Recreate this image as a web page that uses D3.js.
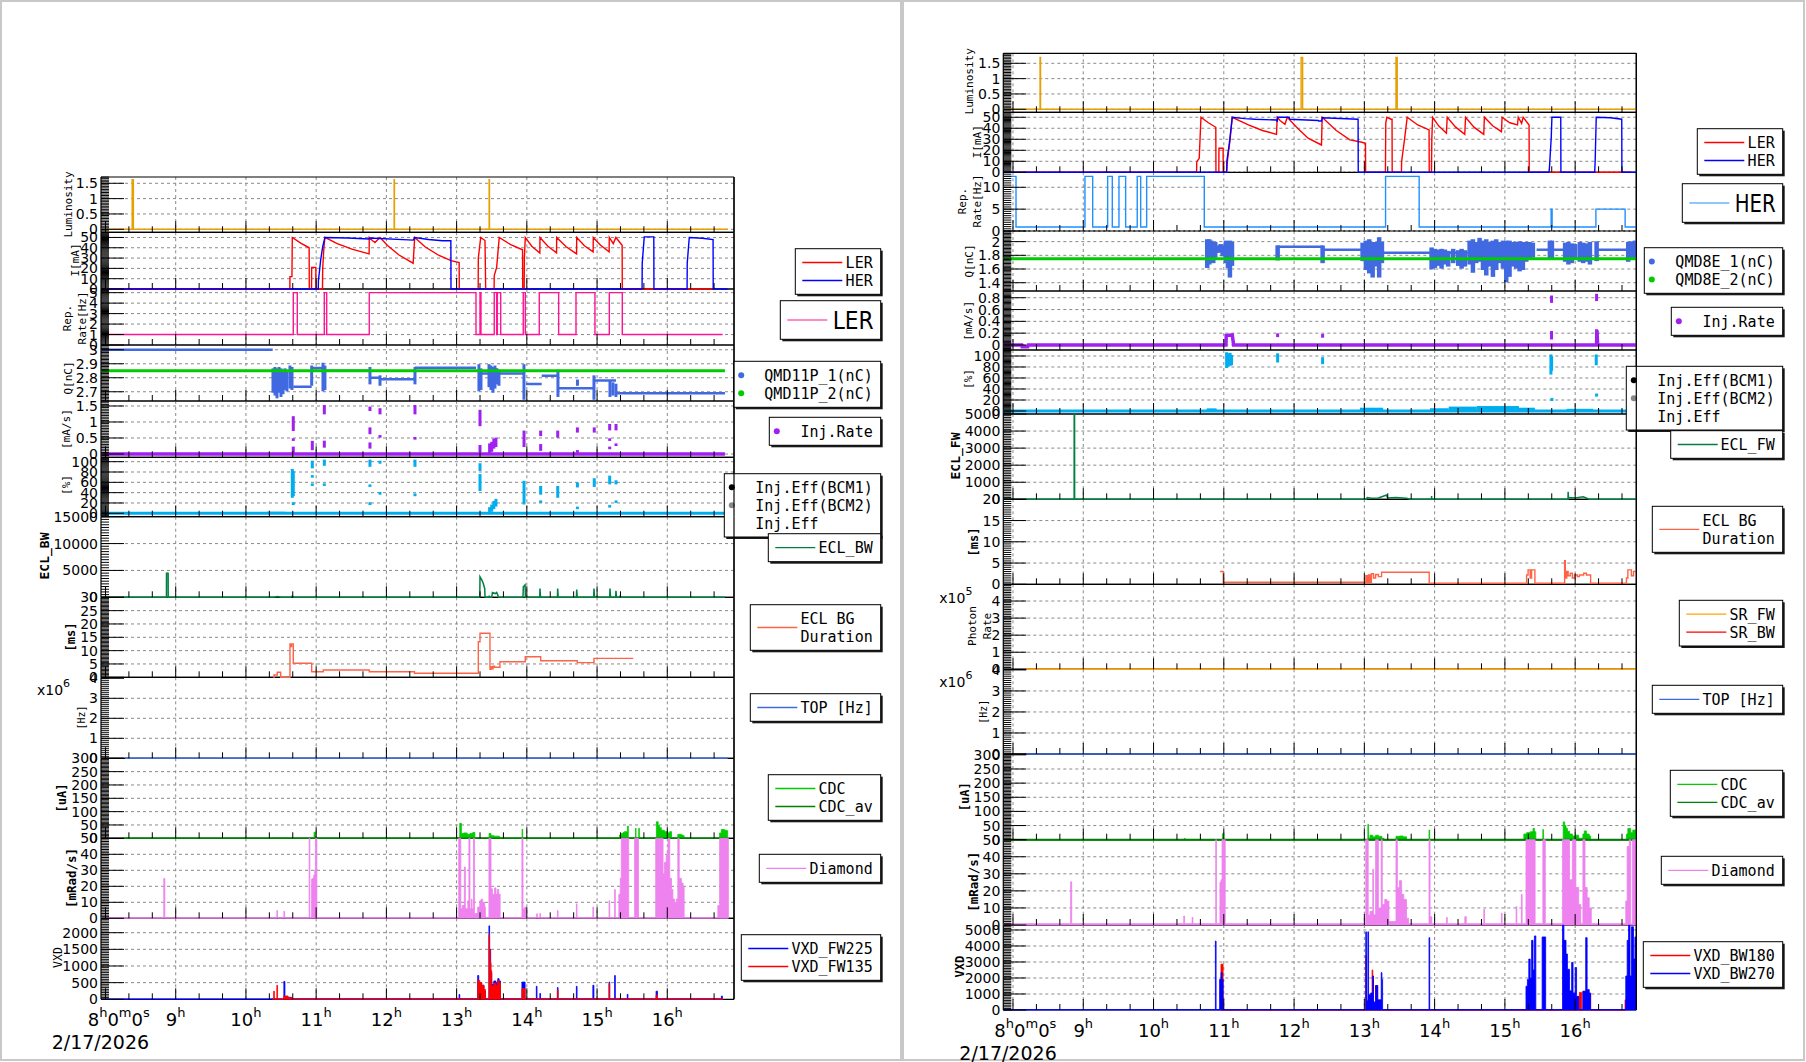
<!DOCTYPE html>
<html>
<head>
<meta charset="utf-8">
<script src="https://cdn.jsdelivr.net/npm/d3@7"></script>
<style>
body { margin: 0; background: #fff; }
svg { display: block; }
text { font-family: "DejaVu Sans", sans-serif; fill: #000; }
.mono { font-family: "DejaVu Sans Mono", monospace; }
</style>
</head>
<body>
<svg id="chart" width="1806" height="1062"></svg>
<script>
// time is in decimal hours of 2/17/2026
const hourTicks = [8, 9, 10, 11, 12, 13, 14, 15, 16];
const hourLabels = [9, 10, 11, 12, 13, 14, 15, 16];
const dateLabel = '2/17/2026';

// ---------------- left canvas (LER side) ----------------
const lumL = [[7.936,0],[8.380,0],[8.380,1.62],[8.397,1.62],[8.397,0],[12.110,0],[12.110,1.62],[12.115,1.62],[12.115,0],[13.463,0],[13.463,1.62],[13.468,1.62],[13.468,0],[16.86,0]];
const lerL = [[7.936,0],[10.625,0],[10.627,12],[10.655,12],[10.660,50],[10.78,44.5],[10.900,40],[10.902,0],[10.934,0],[10.936,21],[10.995,21],[10.997,0],[11.090,0],[11.093,20],[11.11,40],[11.125,50],[11.30,44],[11.52,38.5],[11.754,34],[11.756,50],[11.80,47],[11.837,45],[11.909,50],[12.02,42],[12.18,33],[12.381,25],[12.403,50],[12.55,41],[12.75,32.5],[12.92,27.5],[13.036,25.6],[13.038,0],[13.307,0],[13.309,30],[13.343,50],[13.404,47],[13.414,0],[13.534,0],[13.536,13],[13.570,21],[13.607,50],[13.77,43],[13.939,38],[13.941,0],[13.962,0],[13.965,30],[13.978,50],[14.07,41.5],[14.185,35],[14.187,50],[14.30,41.5],[14.423,35],[14.425,50],[14.56,41],[14.708,34],[14.710,50],[14.82,42],[14.944,36],[14.946,50],[15.05,42.5],[15.172,36],[15.174,50],[15.231,44],[15.268,50],[15.357,42.5],[15.359,0],[16.654,0]];
const herL = [[7.936,0],[11.030,0],[11.032,8],[11.064,28],[11.093,41],[11.125,50],[11.45,49.5],[11.75,48.5],[11.756,49.5],[12.383,47.4],[12.403,50],[12.60,48],[12.80,46.8],[12.918,46.8],[12.920,0],[15.641,0],[15.643,25],[15.672,50.6],[15.808,50.6],[15.810,0],[16.282,0],[16.284,25],[16.313,50],[16.50,49.2],[16.652,48],[16.654,0],[16.860,0]];
const repL = [[7.936,1],[10.674,5],[10.731,1],[11.116,5],[11.150,1],[11.756,5],[13.276,1],[13.333,5],[13.347,1],[13.536,5],[13.570,1],[13.580,5],[13.628,1],[13.949,5],[13.978,1],[14.177,5],[14.453,1],[14.700,5],[14.970,1],[15.174,5],[15.359,1],[16.788,1]];
const qmd1L = [[7.936,10.381,3.0],[10.674,10.936,2.736],[10.936,11.125,2.87],[11.125,11.756,2.85],[11.756,11.909,2.80],[11.909,12.407,2.79],[12.407,13.276,2.872],[13.333,13.949,2.83],[13.988,14.211,2.755],[14.211,14.453,2.814],[14.453,14.970,2.725],[14.970,15.269,2.78],[15.269,16.821,2.69]];
const qmd1ClustL = [[10.385,2.70,2.86],[10.400,2.72,2.85],[10.414,2.68,2.87],[10.428,2.71,2.84],[10.442,2.66,2.86],[10.457,2.72,2.85],[10.471,2.70,2.87],[10.485,2.73,2.85],[10.499,2.67,2.86],[10.514,2.72,2.84],[10.528,2.69,2.85],[10.542,2.73,2.84],[10.556,2.72,2.86],[10.570,2.74,2.83],[10.584,2.71,2.84],[10.627,2.73,2.88],[10.656,2.72,2.87],[10.936,2.75,2.88],[11.097,2.71,2.90],[11.125,2.72,2.88],[11.766,2.76,2.87],[11.909,2.75,2.81],[12.407,2.76,2.87],[13.318,2.71,2.89],[13.347,2.72,2.86],[13.461,2.74,2.89],[13.475,2.75,2.87],[13.489,2.72,2.88],[13.504,2.76,2.86],[13.518,2.70,2.87],[13.532,2.75,2.86],[13.546,2.73,2.88],[13.560,2.77,2.86],[13.575,2.76,2.86],[13.603,2.75,2.85],[13.959,2.65,2.89],[14.443,2.67,2.85],[14.721,2.75,2.78],[14.956,2.65,2.81],[15.184,2.67,2.77],[15.226,2.68,2.76],[15.269,2.67,2.75]];
const qmd2L = [[7.936,16.821,2.85]];
const injRateL = [[7.936,0],[16.821,0]];
const injRateDotsL = [[10.674,0.75,1.15],[10.674,0.44,0.46],[10.674,0.0,0.2],[10.945,0.15,0.38],[11.116,1.27,1.5],[11.116,0.23,0.385],[11.766,1.375,1.45],[11.766,0.65,0.80],[11.766,0.2,0.33],[11.909,1.27,1.4],[11.909,0.54,0.56],[12.407,1.27,1.5],[12.407,0.48,0.5],[13.333,0.9,1.35],[13.333,0.1,0.25],[13.47,0.05,0.3],[13.50,0.1,0.35],[13.53,0.2,0.45],[13.56,0.25,0.48],[13.96,0.25,0.7],[14.197,0.59,0.70],[14.197,0.13,0.28],[14.44,0.54,0.70],[14.72,0.70,0.80],[14.72,0.07,0.09],[14.96,0.70,0.80],[15.18,0.77,0.906],[15.18,0.44,0.46],[15.18,0.18,0.2],[15.27,0.77,0.906],[15.27,0.28,0.3]];
const injEffL = [[7.936,0],[16.821,0]];
const injEffBandL = [[10.30,10.56,3]];
const injEffDotsL = [[10.66,32,84],[10.674,35,80],[10.674,18,19.5],[10.945,89,100],[10.945,71,72],[10.945,55,56],[11.116,94,102],[11.116,55,56],[11.766,92,102],[11.766,53,54],[11.766,18,19.5],[11.909,98,100],[11.909,38,39.5],[12.407,92,102],[12.407,35,36.5],[13.333,84,95],[13.333,45,74],[13.47,0,10],[13.50,5,15],[13.53,10,22],[13.56,15,26],[13.96,19,61],[14.197,38,51],[14.197,22,23],[14.44,32,51],[14.72,52,58],[14.72,10,11],[14.96,53,66],[15.18,58,71],[15.18,13,14],[15.27,58,62],[15.27,22,23]];
const eclBWL = [[7.936,0],[8.868,0],[8.869,4470],[8.892,4470],[8.893,0],[10.40,0],[10.45,150],[10.50,0],[10.64,0],[10.66,250],[10.68,0],[13.330,0],[13.333,3830],[13.36,3200],[13.38,2580],[13.40,1640],[13.405,0],[13.462,0],[13.465,300],[13.47,0],[13.50,0],[13.51,900],[13.55,700],[13.57,900],[13.60,0],[13.945,0],[13.95,1950],[13.975,2300],[13.98,0],[14.184,0],[14.187,1640],[14.195,0],[14.436,0],[14.439,1640],[14.447,0],[14.706,0],[14.710,1450],[14.718,0],[14.952,0],[14.956,1640],[14.964,0],[15.180,0],[15.184,1640],[15.192,0],[15.265,0],[15.269,1200],[15.277,0],[15.322,0],[15.326,300],[15.33,0],[16.821,0]];
const eclDurL = [[10.390,0],[10.399,0.86],[10.446,1.87],[10.495,0],[10.627,12.5],[10.64,11.5],[10.65,12.5],[10.674,5.25],[10.936,2.1],[11.101,2.74],[11.756,2.1],[12.400,1.5],[13.309,13.35],[13.333,16.5],[13.475,3.0],[13.49,4.0],[13.50,3.2],[13.52,4.2],[13.54,3.75],[13.617,5.85],[13.978,7.7],[14.197,6.2],[14.718,5.5],[14.956,7.1],[15.515,7.1]];
const topL = [[8.278,0],[16.860,0]];
const cdcAvL = [[8.264,0],[16.860,0]];
const cdcL = [[8.264,0],[10.438,3],[10.445,0],[10.556,3],[10.563,0],[10.970,22.5],[10.99,0],[13.045,56],[13.068,18],[13.10,20],[13.15,15],[13.19,18],[13.23,22],[13.26,0],[13.462,18],[13.49,10],[13.53,8],[13.58,8],[13.61,0],[13.932,34],[13.94,0],[15.320,12],[15.345,18],[15.37,22],[15.39,25],[15.415,25],[15.434,46],[15.445,0],[15.547,37.5],[15.555,0],[15.594,37.5],[15.602,0],[15.845,62],[15.87,48],[15.89,40],[15.915,30],[15.96,25],[16.01,20],[16.035,25],[16.06,0],[16.15,15],[16.20,12],[16.225,10],[16.24,0],[16.745,20],[16.77,33],[16.815,30],[16.85,28],[16.860,0]];
const diamondL = [[7.936,0.3],[8.830,24.8],[8.845,0.3],[10.44,4.85],[10.45,0.3],[10.54,4.4],[10.55,0.3],[10.90,50],[10.91,0.3],[10.935,24.5],[10.95,25],[10.965,27],[10.98,30],[10.99,50],[11.01,0.5],[13.03,50],[13.06,6],[13.08,8],[13.11,32],[13.125,6],[13.16,11],[13.175,50],[13.19,6],[13.21,12],[13.22,6],[13.24,50],[13.255,3],[13.30,7],[13.33,11],[13.35,12],[13.37,10],[13.40,7],[13.41,0.5],[13.46,50],[13.49,18.5],[13.51,15],[13.54,19],[13.56,15],[13.58,18],[13.60,15],[13.62,0.5],[13.93,50],[13.945,6],[13.97,7],[13.99,0.5],[14.14,2.8],[14.15,0.5],[14.185,3],[14.195,0.5],[14.435,4.85],[14.445,0.5],[14.705,9],[14.715,0.5],[14.94,7],[14.95,0.5],[15.17,11],[15.18,0.5],[15.25,18],[15.26,0.5],[15.31,15],[15.33,25],[15.345,50],[15.45,0.5],[15.535,50],[15.59,0.5],[15.835,50],[15.94,28],[15.96,35],[15.985,40],[16.01,50],[16.035,25],[16.06,18],[16.08,12],[16.105,10],[16.13,12],[16.15,50],[16.17,25],[16.20,22],[16.225,20],[16.24,0.5],[16.72,8],[16.745,50],[16.87,0.5]];
const vxdFW225L = [[7.936,12],[10.54,538],[10.555,40],[10.60,60],[10.65,15],[13.035,147],[13.045,15],[13.30,714],[13.315,500],[13.35,420],[13.39,250],[13.41,15],[13.46,2205],[13.47,1500],[13.485,800],[13.50,450],[13.53,550],[13.56,500],[13.585,620],[13.605,550],[13.625,15],[13.93,518],[13.975,15],[14.135,391],[14.145,15],[14.185,176],[14.195,15],[14.435,353],[14.445,15],[14.705,391],[14.715,15],[14.94,420],[14.955,15],[15.17,518],[15.18,15],[15.25,714],[15.26,15],[15.43,150],[15.44,15],[15.84,244],[15.86,15],[16.77,97],[16.785,0]];
const vxdFW135L = [[10.38,12],[10.395,244],[10.405,12],[10.44,420],[10.45,12],[10.54,100],[10.60,50],[10.65,12],[13.30,568],[13.33,500],[13.36,420],[13.39,300],[13.41,12],[13.46,1940],[13.47,1500],[13.48,1100],[13.49,862],[13.50,400],[13.53,480],[13.56,420],[13.585,560],[13.605,500],[13.625,12],[13.93,323],[13.975,12],[14.435,274],[14.445,12],[15.17,470],[15.18,12],[15.84,120],[15.86,12],[16.79,0]];

// ---------------- right canvas (HER side) ----------------
const lumR = [[7.862,0],[8.385,0],[8.385,1.69],[8.392,1.69],[8.392,0],[12.100,0],[12.100,1.69],[12.122,1.69],[12.122,0],[13.450,0],[13.450,1.69],[13.468,1.69],[13.468,0],[16.87,0]];
const lerR = [[7.862,0],[10.613,0],[10.615,9.6],[10.65,12.7],[10.675,50],[10.78,45],[10.886,40.9],[10.888,0],[10.929,0],[10.931,21.8],[10.990,21.8],[10.992,0],[11.04,0],[11.05,10],[11.09,30],[11.12,50],[11.35,43],[11.55,38],[11.750,34.5],[11.760,50],[11.80,47],[11.87,43.6],[11.903,50],[12.05,40],[12.20,31],[12.390,24.8],[12.400,50],[12.60,38],[12.794,29.4],[12.95,27.5],[13.016,26.4],[13.018,0],[13.300,0],[13.305,45],[13.320,50],[13.38,48.2],[13.394,48.2],[13.396,0],[13.528,0],[13.530,9.6],[13.57,29],[13.610,50],[13.76,43],[13.921,38.5],[13.923,0],[13.955,0],[13.960,30],[13.971,50],[14.06,42],[14.168,35.5],[14.179,50],[14.30,41],[14.429,34.5],[14.440,50],[14.56,41],[14.699,34.5],[14.708,50],[14.83,42],[14.951,36.9],[14.960,50],[15.07,45],[15.179,43],[15.190,50],[15.238,44.5],[15.260,50],[15.344,43],[15.346,0],[16.80,0]];
const herR = [[7.862,0],[11.040,0],[11.045,11],[11.080,27],[11.120,50],[11.30,48.8],[11.45,48.2],[11.750,47.5],[11.760,46],[11.766,50],[11.931,50],[11.94,48.2],[12.344,47],[12.35,46.6],[12.392,46.6],[12.40,49.5],[12.911,48.2],[12.913,0],[15.628,0],[15.635,5],[15.660,32],[15.669,50],[15.795,50],[15.797,0],[16.278,0],[16.285,11],[16.300,50],[16.50,49.5],[16.663,48.2],[16.665,0],[16.86,0]];
const repR = [[7.862,12.5],[8.043,0.9],[9.024,12.5],[9.134,0.9],[9.347,12.5],[9.413,0.9],[9.508,12.5],[9.603,0.9],[9.768,12.5],[9.817,0.9],[9.902,12.5],[10.722,0.9],[13.302,12.5],[13.780,0.9],[15.658,5],[15.672,0.9],[16.295,5],[16.711,0.9],[16.87,0.9]];
const qmd1R = [[11.752,12.406,1.925],[12.406,12.961,1.88],[13.268,14.474,1.838],[15.451,15.829,1.88],[16.327,16.731,1.88]];
const qmd1ClustR = [[10.764,1.63,2.02],[10.793,1.68,2.02],[10.821,1.73,2.0],[10.850,1.70,1.98],[10.878,1.78,1.98],[10.921,1.85,1.93],[10.955,1.86,1.95],[10.983,1.80,1.93],[11.030,1.70,2.0],[11.059,1.63,1.98],[11.087,1.49,2.0],[11.116,1.66,1.98],[11.766,1.74,1.93],[12.406,1.70,1.93],[12.975,1.73,1.97],[13.022,1.60,2.0],[13.070,1.55,2.02],[13.118,1.49,1.98],[13.164,1.65,1.98],[13.211,1.49,2.05],[13.250,1.70,1.98],[13.957,1.61,1.90],[14.004,1.63,1.88],[14.051,1.66,1.87],[14.099,1.62,1.88],[14.146,1.68,1.87],[14.193,1.65,1.85],[14.264,1.70,1.88],[14.335,1.66,1.86],[14.384,1.62,1.88],[14.431,1.65,1.86],[14.498,1.68,2.0],[14.545,1.56,2.02],[14.593,1.70,1.98],[14.640,1.72,2.04],[14.688,1.60,2.0],[14.735,1.52,2.02],[14.782,1.65,1.98],[14.830,1.50,2.0],[14.877,1.60,2.02],[14.924,1.70,1.98],[14.972,1.62,2.0],[15.019,1.42,2.0],[15.066,1.50,2.0],[15.114,1.65,1.98],[15.161,1.62,1.98],[15.209,1.58,1.99],[15.256,1.60,1.98],[15.304,1.72,1.98],[15.351,1.75,1.98],[15.398,1.78,1.97],[15.640,1.75,2.0],[15.669,1.75,2.0],[15.857,1.72,1.97],[15.904,1.68,1.98],[15.953,1.70,1.96],[16.000,1.75,1.95],[16.067,1.72,1.98],[16.114,1.70,1.97],[16.162,1.72,1.96],[16.210,1.68,1.98],[16.305,1.73,1.99],[16.755,1.72,1.98],[16.803,1.75,1.99],[16.850,1.75,2.0]];
const qmd2R = [[7.862,16.87,1.75]];
const injRateR = [[7.862,0],[8.124,0],[8.13,-0.03],[8.21,-0.03],[8.218,0],[11.030,0],[11.035,0.16],[11.120,0.17],[11.140,0],[16.305,0],[16.31,0.25],[16.32,0],[16.87,0]];
const injRateDotsR = [[11.766,0.15,0.18],[12.406,0.14,0.17],[15.664,0.73,0.82],[15.664,0.11,0.22],[16.305,0.76,0.85],[16.305,0.14,0.25]];
const injEffR = [[7.862,0],[16.87,0]];
const injEffBandR = [[10.756,10.898,4.8],[12.937,13.268,6],[13.933,14.2,5],[14.2,14.6,8],[14.6,15.2,9],[15.2,15.427,6],[15.878,16.256,4],[16.731,16.87,7]];
const injEffDotsR = [[11.04,80,105],[11.06,82,103],[11.09,84,104],[11.11,85,100],[11.766,90,103],[12.406,87,96],[15.655,68,101],[15.665,75,98],[15.669,20,22],[16.30,85,101],[16.305,28,30]];
const eclFWR = [[7.862,0],[8.870,0],[8.871,5000],[8.876,5000],[8.877,0],[13.03,0],[13.04,100],[13.10,60],[13.20,80],[13.317,250],[13.33,80],[13.45,100],[13.60,60],[13.65,0],[13.955,0],[13.957,190],[13.96,0],[15.898,0],[15.90,445],[15.905,100],[16.0,80],[16.114,150],[16.20,0],[16.87,0]];
const eclDurR = [[10.945,3.0],[10.992,0.47],[13.022,2.0],[13.04,0.3],[13.06,2.2],[13.08,0.5],[13.10,2.5],[13.13,1.5],[13.16,2.3],[13.20,1.8],[13.245,2.85],[13.923,0.24],[15.309,2.2],[15.33,3.4],[15.36,1.5],[15.38,3.4],[15.427,0.24],[15.85,5.55],[15.86,1.5],[15.88,3.0],[15.90,2.0],[15.93,2.6],[15.96,1.5],[15.99,2.2],[16.03,1.8],[16.06,2.2],[16.12,2.6],[16.16,2.2],[16.22,0.24],[16.73,1.5],[16.75,3.4],[16.78,3.4],[16.80,2.0],[16.83,3.0],[16.87,3.0]];
const srFWR = [[8.185,0],[16.87,0]];
const srBWR = [[8.185,0],[16.87,0]];
const topR = [[8.185,0],[16.87,0]];
const cdcAvR = [[7.862,0],[16.87,0]];
const cdcR = [[7.862,0],[10.44,4.7],[10.45,0],[10.98,21],[11.0,0],[13.05,54],[13.06,5],[13.08,16],[13.12,10],[13.16,16],[13.20,12],[13.25,5],[13.28,0],[13.45,12],[13.50,13],[13.55,10],[13.60,0],[13.92,34],[13.93,0],[15.27,20],[15.31,25],[15.36,28],[15.40,40],[15.42,28],[15.44,0],[15.54,36],[15.55,0],[15.83,63],[15.85,50],[15.87,40],[15.89,30],[15.92,20],[15.96,13],[16.0,16],[16.05,5],[16.11,20],[16.13,31],[16.16,20],[16.20,13],[16.22,0],[16.73,20],[16.75,40],[16.79,25],[16.82,34],[16.87,0]];
const diamondR = [[7.862,0.8],[8.82,25.3],[8.835,0.8],[10.43,5.3],[10.44,0.8],[10.55,4.5],[10.56,0.8],[10.885,50],[10.895,0.8],[10.945,25],[10.96,26.5],[10.975,50],[11.02,0.8],[13.02,50],[13.055,5.9],[13.08,8],[13.12,32.7],[13.13,6],[13.16,50],[13.20,10],[13.24,50],[13.255,12],[13.29,15],[13.32,14],[13.35,2],[13.45,50],[13.47,22],[13.50,26],[13.53,18],[13.56,15],[13.60,4],[13.63,0.8],[13.92,50],[13.935,4.9],[13.96,0.8],[14.17,4.5],[14.18,0.8],[14.43,4.9],[14.45,0.8],[14.70,9.2],[14.71,0.8],[14.95,6.9],[14.96,0.8],[15.16,10.8],[15.17,0.8],[15.235,18],[15.245,0.8],[15.30,50],[15.43,0.8],[15.54,50],[15.575,0.8],[15.82,50],[15.92,26.5],[15.96,50],[16.01,22],[16.05,12],[16.08,0.8],[16.11,50],[16.14,22],[16.17,16],[16.20,10],[16.23,0.8],[16.72,14],[16.74,46],[16.77,50],[16.79,0.8],[16.815,50],[16.87,0.8]];
const vxdBW270R = [[7.862,30],[10.88,4310],[10.89,30],[10.94,1911],[10.96,2336],[10.975,1911],[10.99,30],[13.02,4883],[13.03,600],[13.05,4883],[13.06,955],[13.09,1062],[13.12,2124],[13.13,500],[13.16,1529],[13.19,637],[13.24,2336],[13.25,1911],[13.26,30],[13.92,4523],[13.93,30],[15.30,1486],[15.32,1911],[15.34,3185],[15.36,2000],[15.38,4353],[15.40,2500],[15.42,4629],[15.44,30],[15.53,4565],[15.58,30],[15.82,5300],[15.84,4353],[15.87,3500],[15.89,2548],[15.92,1200],[15.95,2973],[15.97,1062],[16.0,2654],[16.02,849],[16.05,30],[16.11,1168],[16.15,4523],[16.17,1274],[16.20,1062],[16.22,30],[16.72,2124],[16.74,4353],[16.76,5300],[16.78,2124],[16.80,5200],[16.83,3185],[16.85,4565],[16.87,30]];
const vxdBW180R = [[10.96,2866],[10.99,0],[13.02,3397],[13.03,0],[13.06,425],[13.09,0],[13.11,2500],[13.12,2124],[13.13,0],[13.16,1529],[13.19,0],[16.03,850],[16.06,1100],[16.09,0],[16.11,1168],[16.19,1000],[16.22,0],[16.71,637],[16.72,0]];

// ---------------- drawing ----------------
const svg = d3.select('#chart');
const defs = svg.append('defs');
const frames = [];

svg.append('rect').attr('x', 1).attr('y', 1).attr('width', 900).attr('height', 1059)
    .attr('fill', 'none').attr('stroke', '#c8c8c8').attr('stroke-width', 2);
svg.append('rect').attr('x', 903).attr('y', 1).attr('width', 901).attr('height', 1059)
    .attr('fill', 'none').attr('stroke', '#c8c8c8').attr('stroke-width', 2);

const baseLayer = svg.append('g');
const dataLayer = svg.append('g');

function fmt(v) { return String(+v.toFixed(4)); }

function scales(side, p) {
    const x = d3.scaleLinear().domain([side.t0, side.t1]).range([side.x0, side.x1]);
    const y = d3.scaleLinear().domain(p.domain).range([p.y1, p.y0]);
    return { x, y };
}

function drawSeries(g, s, x, y) {
    const base = y(Math.max(0, y.domain()[0]));
    if (s.type == 'line' || s.type == 'step') {
        const ln = d3.line().x(d => x(d[0])).y(d => y(d[1]))
            .curve(s.type == 'step' ? d3.curveStepAfter : d3.curveLinear);
        g.append('path').attr('d', ln(s.data)).attr('fill', 'none')
            .attr('stroke', s.color).attr('stroke-width', s.width || 1.3);
    } else if (s.type == 'area') {
        const ar = d3.area().x(d => x(d[0])).y0(base).y1(d => y(d[1])).curve(d3.curveStepAfter);
        g.append('path').attr('d', ar(s.data)).attr('fill', s.color)
            .attr('stroke', s.color).attr('stroke-width', 0.8);
    } else if (s.type == 'cols') {
        g.selectAll(null).data(s.data).join('rect')
            .attr('x', d => x(d[0]) - s.w / 2).attr('width', s.w)
            .attr('y', d => y(d[2]) - 1)
            .attr('height', d => Math.max(2.5, y(d[1]) - y(d[2]) + 2))
            .attr('fill', s.color);
    } else if (s.type == 'hseg') {
        g.selectAll(null).data(s.data).join('line')
            .attr('x1', d => x(d[0])).attr('x2', d => x(d[1]))
            .attr('y1', d => y(d[2])).attr('y2', d => y(d[2]))
            .attr('stroke', s.color).attr('stroke-width', s.width);
    } else if (s.type == 'band') {
        g.selectAll(null).data(s.data).join('rect')
            .attr('x', d => x(d[0])).attr('width', d => x(d[1]) - x(d[0]))
            .attr('y', d => y(d[2])).attr('height', d => base - y(d[2]))
            .attr('fill', s.color);
    }
}

// grid and frame of one pad (drawn under all data)
function drawPanelBase(side, p) {
    const { x, y } = scales(side, p);
    const g = baseLayer.append('g');
    const grid = g.append('g').attr('stroke', '#8a8a8a').attr('stroke-width', 1).attr('stroke-dasharray', '3,3');
    grid.selectAll('line.v').data(hourTicks.filter(h => x(h) > side.x0 + 6 && x(h) < side.x1 - 2)).join('line')
        .attr('class', 'v')
        .attr('x1', d => x(d)).attr('x2', d => x(d)).attr('y1', p.y0).attr('y2', p.y1);
    grid.selectAll('line.h').data(p.ticks.filter(t => y(t) > p.y0 + 2 && y(t) < p.y1 - 2)).join('line')
        .attr('class', 'h')
        .attr('x1', side.x0).attr('x2', side.x1).attr('y1', d => y(d)).attr('y2', d => y(d));
    const fg = g.append('g').attr('stroke', '#000').attr('stroke-width', 1.2).attr('fill', 'none');
    fg.append('line').attr('x1', side.x0).attr('x2', side.x1).attr('y1', p.y0).attr('y2', p.y0);
    fg.append('line').attr('x1', side.x0).attr('x2', side.x0).attr('y1', p.y0).attr('y2', p.y1);
    fg.append('line').attr('x1', side.x1).attr('x2', side.x1).attr('y1', p.y0).attr('y2', p.y1);
    fg.append('line').attr('x1', side.x0).attr('x2', side.x1).attr('y1', p.y1).attr('y2', p.y1)
        .attr('stroke-dasharray', p.dashBottom ? '2,3' : null);
    frames.push({ x1: side.x1, y0: p.y0, y1: p.y1 });
}

function drawPanel(side, p, idx) {
    const { x, y } = scales(side, p);
    const g = dataLayer.append('g');
    const cid = 'clip' + side.id + idx;
    defs.append('clipPath').attr('id', cid).append('rect')
        .attr('x', side.x0).attr('y', p.y0 - 1.5).attr('width', side.x1 - side.x0).attr('height', p.y1 - p.y0 + 3);

    const dg = g.append('g').attr('clip-path', 'url(#' + cid + ')');
    p.series.forEach(s => drawSeries(dg, s, x, y));

    // axis ticks
    const tg = g.append('g').attr('stroke', '#000').attr('stroke-width', 1);
    const minorX = d3.range(22, 52).map(k => k / 3).filter(h => Math.abs(h - Math.round(h)) > 0.01)
        .filter(h => h > side.t0 && h < side.t1);
    tg.selectAll('line.xm').data(hourTicks.filter(h => h > side.t0 && h < side.t1)).join('line')
        .attr('class', 'xm')
        .attr('x1', d => x(d)).attr('x2', d => x(d)).attr('y1', p.y1).attr('y2', p.y1 - 11);
    tg.selectAll('line.xn').data(minorX).join('line')
        .attr('class', 'xn')
        .attr('x1', d => x(d)).attr('x2', d => x(d)).attr('y1', p.y1).attr('y2', p.y1 - 6);
    const [d0, d1] = p.domain;
    const minorY = d3.range(Math.ceil(d0 / p.minor - 1e-6), Math.floor(d1 / p.minor + 1e-6) + 1).map(k => k * p.minor);
    tg.selectAll('line.ym').data(p.ticks).join('line')
        .attr('class', 'ym')
        .attr('x1', side.x0).attr('x2', side.x0 + 23).attr('y1', d => y(d)).attr('y2', d => y(d));
    tg.selectAll('line.yn').data(minorY).join('line')
        .attr('class', 'yn')
        .attr('x1', side.x0).attr('x2', side.x0 + 8).attr('y1', d => y(d)).attr('y2', d => y(d));

    g.selectAll('text.tl').data(p.ticks).join('text')
        .attr('class', 'tl')
        .attr('x', side.x0 - 3).attr('y', d => y(d)).attr('dy', '0.36em')
        .attr('text-anchor', 'end').style('font-size', '14px')
        .text(fmt);

    // axis title
    const t = p.title;
    t.lines.forEach((line, i) => {
        g.append('text').attr('class', 'mono')
            .attr('transform', 'translate(' + t.x[i] + ',' + t.y + ') rotate(-90)')
            .attr('text-anchor', 'middle').attr('dy', '0.36em')
            .style('font-size', (t.size || 11) + 'px')
            .style('font-weight', t.bold ? 'bold' : 'normal')
            .text(line);
    });
    if (p.exp) {
        const e = g.append('text').attr('x', p.exp.x).attr('y', p.exp.y).style('font-size', '14px');
        e.append('tspan').text('x10');
        e.append('tspan').attr('dy', -8).style('font-size', '11px').text(p.exp.n);
    }
    if (p.legend) drawLegend(g, p.legend);
}

function drawLegend(parent, L) {
    const g = parent.append('g');
    g.append('rect').attr('x', L.x + 2).attr('y', L.y + 2).attr('width', L.w).attr('height', L.h).attr('fill', '#1a1a1a');
    g.append('rect').attr('x', L.x).attr('y', L.y).attr('width', L.w).attr('height', L.h)
        .attr('fill', '#fff').attr('stroke', '#000').attr('stroke-width', 1);
    const n = L.rows.length;
    const cy = L.y + L.h / 2;
    if (L.big) {
        const r = L.rows[0];
        g.append('line').attr('x1', L.x + 7).attr('x2', L.x + 47).attr('y1', cy).attr('y2', cy)
            .attr('stroke', r.color).attr('stroke-width', 1.2);
        g.append('text').attr('x', L.x + L.w - 7).attr('y', cy + 9).attr('text-anchor', 'end')
            .attr('textLength', 41).attr('lengthAdjust', 'spacingAndGlyphs')
            .style('font-size', '25px').text(r.label);
        return;
    }
    const maxLen = d3.max(L.rows, r => r.label.length);
    const tx = L.x + L.w - 8 - maxLen * 9.03;
    L.rows.forEach((r, i) => {
        const ry = cy + (i - (n - 1) / 2) * 18;
        if (r.mark == 'line') {
            const ly = L.midLine ? cy : ry;
            g.append('line').attr('x1', L.x + 7).attr('x2', L.x + 47).attr('y1', ly).attr('y2', ly)
                .attr('stroke', r.color).attr('stroke-width', 1.3);
        } else if (r.mark == 'dot') {
            g.append('circle').attr('cx', L.x + 7.5).attr('cy', ry).attr('r', 3).attr('fill', r.color);
        }
        g.append('text').attr('class', 'mono').attr('x', tx).attr('y', ry).attr('dy', '0.36em')
            .style('font-size', '15px').text(r.label);
    });
}

function timeLabels(side, base) {
    const x = d3.scaleLinear().domain([side.t0, side.t1]).range([side.x0, side.x1]);
    const g = svg.append('g');
    hourLabels.forEach(h => {
        const t = g.append('text').attr('x', x(h)).attr('y', base).attr('text-anchor', 'middle').style('font-size', '18px');
        t.append('tspan').text(String(h));
        t.append('tspan').attr('dy', -9).style('font-size', '13px').text('h');
    });
    const s = g.append('text').attr('x', side.x0 + side.startDx).attr('y', base).style('font-size', '18px');
    [['8', 'h'], ['0', 'm'], ['0', 's']].forEach(([a, b]) => {
        s.append('tspan').attr('dy', 9).text(a);
        s.append('tspan').attr('dy', -9).style('font-size', '13px').text(b);
    });
    s.select('tspan').attr('dy', 0);
    g.append('text').attr('x', side.dateX).attr('y', side.dateY).style('font-size', '19px').text(dateLabel);
}

const LEFT = { id: 'L', x0: 101, x1: 734, t0: 7.936, t1: 16.95, startDx: -13.3, dateX: 51.7, dateY: 1049 };
const RIGHT = { id: 'R', x0: 1003.3, x1: 1636.3, t0: 7.862, t1: 16.87, startDx: -9, dateX: 959.3, dateY: 1060 };

const leftPanels = [
    { y0: 177, y1: 232.3, domain: [-0.098, 1.705], ticks: [0, 0.5, 1, 1.5], minor: 0.05,
      title: { lines: ['Luminosity'], x: [68], y: 204.5 },
      series: [{ type: 'line', data: lumL, color: '#e8a000', width: 1.4 }] },
    { y0: 232.3, y1: 289, domain: [0, 55], ticks: [0, 10, 20, 30, 40, 50], minor: 1,
      title: { lines: ['I[mA]'], x: [75], y: 260 },
      series: [{ type: 'line', data: lerL, color: '#ff0000', width: 1.4 }, { type: 'line', data: herL, color: '#0000ff', width: 1.4 }],
      legend: { x: 795.3, y: 248.7, w: 85.4, h: 45.6, rows: [{ mark: 'line', color: '#ff0000', label: 'LER' }, { mark: 'line', color: '#0000ff', label: 'HER' }] } },
    { y0: 289, y1: 345, domain: [0, 5.35], ticks: [0, 1, 2, 3, 4, 5], minor: 0.1,
      title: { lines: ['Rep.', 'Rate[Hz]'], x: [67.5, 82], y: 318 },
      series: [{ type: 'step', data: repL, color: '#ff1493', width: 1.4 }],
      legend: { x: 780.3, y: 300.7, w: 100.4, h: 38.6, big: true, rows: [{ mark: 'line', color: '#ff1493', label: 'LER' }] } },
    { y0: 345, y1: 401, domain: [2.634, 3.034], ticks: [2.7, 2.8, 2.9, 3], minor: 0.01,
      title: { lines: ['Q[nC]'], x: [68], y: 378 },
      series: [{ type: 'hseg', data: qmd1L, color: '#4169e1', width: 2.5 }, { type: 'cols', data: qmd1ClustL, color: '#4169e1', w: 3 },
               { type: 'hseg', data: qmd2L, color: '#00cc00', width: 3 }],
      legend: { x: 733.7, y: 361.3, w: 147, h: 46, rows: [{ mark: 'dot', color: '#4169e1', label: 'QMD11P_1(nC)' }, { mark: 'dot', color: '#00cc00', label: 'QMD11P_2(nC)' }] } },
    { y0: 401, y1: 457.3, domain: [-0.103, 1.656], ticks: [0, 0.5, 1, 1.5], minor: 0.05,
      title: { lines: ['[mA/s]'], x: [66.5], y: 429 },
      series: [{ type: 'line', data: injRateL, color: '#a020f0', width: 3.5 }, { type: 'cols', data: injRateDotsL, color: '#a020f0', w: 3 }],
      legend: { x: 769.3, y: 417.3, w: 111.4, h: 28, rows: [{ mark: 'dot', color: '#a020f0', label: 'Inj.Rate' }] } },
    { y0: 457.3, y1: 516.7, domain: [-6.6, 108.5], ticks: [0, 20, 40, 60, 80, 100], minor: 2,
      title: { lines: ['[%]'], x: [66], y: 485 },
      series: [{ type: 'line', data: injEffL, color: '#00aeef', width: 3 }, { type: 'band', data: injEffBandL, color: '#00aeef' },
               { type: 'cols', data: injEffDotsL, color: '#00aeef', w: 3 }],
      legend: { x: 724.3, y: 473.7, w: 156.4, h: 63.3, rows: [{ mark: 'dot', color: '#000', label: 'Inj.Eff(BCM1)' }, { mark: 'dot', color: '#888', label: 'Inj.Eff(BCM2)' }, { mark: 'none', label: 'Inj.Eff' }] } },
    { y0: 516.7, y1: 597.3, domain: [0, 15000], ticks: [0, 5000, 10000, 15000], minor: 500,
      title: { lines: ['ECL_BW'], x: [44], y: 556, bold: true, size: 13 },
      series: [{ type: 'line', data: eclBWL, color: '#008040', width: 1.5 }],
      legend: { x: 768.3, y: 533.7, w: 112.4, h: 28, rows: [{ mark: 'line', color: '#008040', label: 'ECL_BW' }] } },
    { y0: 597.3, y1: 677.3, domain: [0, 30], ticks: [0, 5, 10, 15, 20, 25, 30], minor: 0.5,
      title: { lines: ['[ms]'], x: [71], y: 637, bold: true, size: 12 },
      series: [{ type: 'step', data: eclDurL, color: '#ff6347', width: 1.4 }],
      legend: { x: 750.3, y: 604.7, w: 130.4, h: 45.6, rows: [{ mark: 'line', color: '#ff6347', label: 'ECL BG' }, { mark: 'none', label: 'Duration' }], midLine: true } },
    { y0: 677.3, y1: 758.3, domain: [0, 4.05], ticks: [0, 1, 2, 3, 4], minor: 0.1,
      title: { lines: ['[Hz]'], x: [81.5], y: 717.5, size: 10 },
      exp: { x: 37, y: 695, n: '6' },
      series: [{ type: 'line', data: topL, color: '#4169e1', width: 1.4 }],
      legend: { x: 750.3, y: 693.7, w: 130.4, h: 27.6, rows: [{ mark: 'line', color: '#4169e1', label: 'TOP [Hz]' }] } },
    { y0: 758.3, y1: 838.3, domain: [0, 300], ticks: [0, 50, 100, 150, 200, 250, 300], minor: 5,
      title: { lines: ['[uA]'], x: [61.5], y: 798, bold: true, size: 12 },
      series: [{ type: 'area', data: cdcL, color: '#00cc00' }, { type: 'line', data: cdcAvL, color: '#008000', width: 1.6 }],
      legend: { x: 768.3, y: 774.7, w: 112.4, h: 45.6, rows: [{ mark: 'line', color: '#00cc00', label: 'CDC' }, { mark: 'line', color: '#008000', label: 'CDC_av' }] } },
    { y0: 838.3, y1: 918.3, domain: [0, 50], ticks: [0, 10, 20, 30, 40, 50], minor: 1,
      title: { lines: ['[mRad/s]'], x: [71], y: 878, bold: true, size: 12.5 },
      series: [{ type: 'area', data: diamondL, color: '#ee82ee' }],
      legend: { x: 759.3, y: 854.3, w: 121.4, h: 28, rows: [{ mark: 'line', color: '#ee82ee', label: 'Diamond' }] } },
    { y0: 918.3, y1: 999.3, domain: [0, 2432], ticks: [0, 500, 1000, 1500, 2000], minor: 50,
      title: { lines: ['VXD'], x: [58], y: 957.5, size: 11.5 },
      series: [{ type: 'area', data: vxdFW225L, color: '#0000ff' }, { type: 'area', data: vxdFW135L, color: '#ff0000' }],
      legend: { x: 741.3, y: 934.7, w: 139.4, h: 45.6, rows: [{ mark: 'line', color: '#0000ff', label: 'VXD_FW225' }, { mark: 'line', color: '#ff0000', label: 'VXD_FW135' }] } }
];

const rightPanels = [
    { y0: 53.3, y1: 112.3, domain: [-0.098, 1.826], ticks: [0, 0.5, 1, 1.5], minor: 0.05,
      title: { lines: ['Luminosity'], x: [969], y: 81.3 },
      series: [{ type: 'line', data: lumR, color: '#e8a000', width: 1.4 }] },
    { y0: 112.3, y1: 172.3, domain: [0, 54.5], ticks: [0, 10, 20, 30, 40, 50], minor: 1, dashBottom: true,
      title: { lines: ['I[mA]'], x: [976.7], y: 141.7 },
      series: [{ type: 'line', data: lerR, color: '#ff0000', width: 1.4 }, { type: 'line', data: herR, color: '#0000ff', width: 1.4 }],
      legend: { x: 1697.3, y: 128.7, w: 85.4, h: 45.6, rows: [{ mark: 'line', color: '#ff0000', label: 'LER' }, { mark: 'line', color: '#0000ff', label: 'HER' }] } },
    { y0: 172.3, y1: 231, domain: [0, 13.43], ticks: [0, 5, 10], minor: 0.5, dashBottom: true,
      title: { lines: ['Rep.', 'Rate[Hz]'], x: [961.7, 976.7], y: 201 },
      series: [{ type: 'step', data: repR, color: '#1e90ff', width: 1.4 }],
      legend: { x: 1682.3, y: 183.7, w: 100.4, h: 38.6, big: true, rows: [{ mark: 'line', color: '#1e90ff', label: 'HER' }] } },
    { y0: 231, y1: 291, domain: [1.279, 2.155], ticks: [1.4, 1.6, 1.8, 2], minor: 0.02,
      title: { lines: ['Q[nC]'], x: [969], y: 261 },
      series: [{ type: 'hseg', data: qmd1R, color: '#4169e1', width: 2.5 }, { type: 'cols', data: qmd1ClustR, color: '#4169e1', w: 4.5 },
               { type: 'hseg', data: qmd2R, color: '#00cc00', width: 3 }],
      legend: { x: 1644.3, y: 247.7, w: 138.4, h: 45.6, rows: [{ mark: 'dot', color: '#4169e1', label: 'QMD8E_1(nC)' }, { mark: 'dot', color: '#00cc00', label: 'QMD8E_2(nC)' }] } },
    { y0: 291, y1: 350, domain: [-0.085, 0.914], ticks: [0, 0.2, 0.4, 0.6, 0.8], minor: 0.02,
      title: { lines: ['[mA/s]'], x: [968.5], y: 320.8 },
      series: [{ type: 'line', data: injRateR, color: '#a020f0', width: 3.5 }, { type: 'cols', data: injRateDotsR, color: '#a020f0', w: 3 }],
      legend: { x: 1671.3, y: 307.3, w: 111.4, h: 28, rows: [{ mark: 'dot', color: '#a020f0', label: 'Inj.Rate' }] } },
    { y0: 350, y1: 414, domain: [-5.45, 110.9], ticks: [0, 20, 40, 60, 80, 100], minor: 2,
      title: { lines: ['[%]'], x: [968.5], y: 379 },
      series: [{ type: 'line', data: injEffR, color: '#00aeef', width: 3 }, { type: 'band', data: injEffBandR, color: '#00aeef' },
               { type: 'cols', data: injEffDotsR, color: '#00aeef', w: 3 }],
      legend: { x: 1626.3, y: 366.3, w: 156.4, h: 63.7, rows: [{ mark: 'dot', color: '#000', label: 'Inj.Eff(BCM1)' }, { mark: 'dot', color: '#888', label: 'Inj.Eff(BCM2)' }, { mark: 'none', label: 'Inj.Eff' }] } },
    { y0: 414, y1: 499.3, domain: [0, 5000], ticks: [0, 1000, 2000, 3000, 4000, 5000], minor: 100,
      title: { lines: ['ECL_FW'], x: [955.5], y: 456, bold: true, size: 13 },
      series: [{ type: 'line', data: eclFWR, color: '#008040', width: 1.5 }],
      legend: { x: 1670.7, y: 430.7, w: 112, h: 27.6, rows: [{ mark: 'line', color: '#008040', label: 'ECL_FW' }] } },
    { y0: 499.3, y1: 584.3, domain: [0, 20], ticks: [0, 5, 10, 15, 20], minor: 0.5,
      title: { lines: ['[ms]'], x: [973.5], y: 542, bold: true, size: 12 },
      series: [{ type: 'step', data: eclDurR, color: '#ff6347', width: 1.4 }],
      legend: { x: 1652.3, y: 506.3, w: 130.4, h: 46, rows: [{ mark: 'line', color: '#ff6347', label: 'ECL BG' }, { mark: 'none', label: 'Duration' }], midLine: true } },
    { y0: 584.3, y1: 669.3, domain: [0, 4.98], ticks: [0, 1, 2, 3, 4], minor: 0.1,
      title: { lines: ['Photon', 'Rate'], x: [971.7, 986.7], y: 626 },
      exp: { x: 939.3, y: 602.7, n: '5' },
      series: [{ type: 'line', data: srBWR, color: '#ff0000', width: 0.8 }, { type: 'line', data: srFWR, color: '#ffa500', width: 1.6 }],
      legend: { x: 1679.3, y: 600.3, w: 103.4, h: 45.7, rows: [{ mark: 'line', color: '#ffa500', label: 'SR_FW' }, { mark: 'line', color: '#ff0000', label: 'SR_BW' }] } },
    { y0: 669.3, y1: 754, domain: [0, 4.03], ticks: [0, 1, 2, 3, 4], minor: 0.1,
      title: { lines: ['[Hz]'], x: [983], y: 711.7, size: 10 },
      exp: { x: 939.3, y: 687.3, n: '6' },
      series: [{ type: 'line', data: topR, color: '#4169e1', width: 1.4 }],
      legend: { x: 1652.3, y: 685.3, w: 130.4, h: 28, rows: [{ mark: 'line', color: '#4169e1', label: 'TOP [Hz]' }] } },
    { y0: 754, y1: 839.7, domain: [0, 303], ticks: [0, 50, 100, 150, 200, 250, 300], minor: 5,
      title: { lines: ['[uA]'], x: [964.3], y: 796.7, bold: true, size: 12 },
      series: [{ type: 'area', data: cdcR, color: '#00cc00' }, { type: 'line', data: cdcAvR, color: '#008000', width: 2 }],
      legend: { x: 1670.3, y: 770.3, w: 112.4, h: 46, rows: [{ mark: 'line', color: '#00cc00', label: 'CDC' }, { mark: 'line', color: '#008000', label: 'CDC_av' }] } },
    { y0: 839.7, y1: 925, domain: [0, 50], ticks: [0, 10, 20, 30, 40, 50], minor: 1,
      title: { lines: ['[mRad/s]'], x: [973.8], y: 881.7, bold: true, size: 12.5 },
      series: [{ type: 'area', data: diamondR, color: '#ee82ee' }],
      legend: { x: 1661.3, y: 856.3, w: 121.4, h: 28, rows: [{ mark: 'line', color: '#ee82ee', label: 'Diamond' }] } },
    { y0: 925, y1: 1010, domain: [0, 5312], ticks: [0, 1000, 2000, 3000, 4000, 5000], minor: 100,
      title: { lines: ['VXD'], x: [959.5], y: 966.7, bold: true, size: 12 },
      series: [{ type: 'area', data: vxdBW180R, color: '#ff0000' }, { type: 'area', data: vxdBW270R, color: '#0000ff' }],
      legend: { x: 1643.3, y: 941.7, w: 139.4, h: 45.6, rows: [{ mark: 'line', color: '#ff0000', label: 'VXD_BW180' }, { mark: 'line', color: '#0000ff', label: 'VXD_BW270' }] } }
];

leftPanels.forEach(p => drawPanelBase(LEFT, p));
rightPanels.forEach(p => drawPanelBase(RIGHT, p));
leftPanels.forEach((p, i) => drawPanel(LEFT, p, i));
rightPanels.forEach((p, i) => drawPanel(RIGHT, p, i));
timeLabels(LEFT, 1025.7);
timeLabels(RIGHT, 1036.7);

// right edges of the frames stay on top of the legends
const eg = svg.append('g').attr('stroke', '#000').attr('stroke-width', 1.2);
frames.forEach(f => {
    eg.append('line').attr('x1', f.x1).attr('x2', f.x1).attr('y1', f.y0).attr('y2', f.y1);
});
</script>
</body>
</html>
